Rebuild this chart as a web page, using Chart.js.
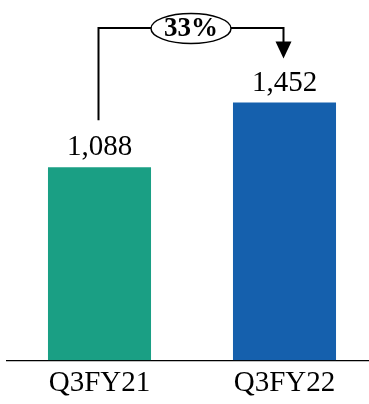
<!DOCTYPE html>
<html>
<head>
<meta charset="utf-8">
<script src="https://cdn.jsdelivr.net/npm/chart.js@4"></script>
<style>
  body { margin: 0; overflow: hidden; background: #fff; }
  #wrap { width: 377px; height: 410px; }
</style>
</head>
<body>
<div id="wrap"><canvas id="barChart" width="377" height="410"></canvas></div>
<script>
let categories = ["Q3FY21", "Q3FY22"];
let values = [1088, 1452];
let valueLabels = ["1,088", "1,452"];
let barColors = ["#1A9F84", "#1560AD"];
let growthLabel = "33%";

const serif = "'Liberation Serif', 'Times New Roman', serif";

// value labels above bars + growth arrow
const annotate = {
    id: "annotate",
    afterDatasetsDraw(chart) {
        let ctx = chart.ctx;
        let bars = chart.getDatasetMeta(0).data;
        ctx.save();
        ctx.fillStyle = "#000";
        ctx.font = "29px " + serif;
        ctx.textAlign = "center";
        ctx.textBaseline = "alphabetic";
        bars.forEach((b, i) => {
            ctx.fillText(valueLabels[i], b.x, b.y - 12);
        });

        let x1 = bars[0].x - 1;
        let x2 = bars[1].x - 1;
        let top = chart.chartArea.top + 28;
        let tipY = bars[1].y - 44;
        ctx.strokeStyle = "#000";
        ctx.lineWidth = 2;
        ctx.beginPath();
        ctx.moveTo(x1, bars[0].y - 47);
        ctx.lineTo(x1, top);
        ctx.lineTo(x2, top);
        ctx.lineTo(x2, tipY - 14);
        ctx.stroke();
        ctx.beginPath();
        ctx.moveTo(x2 - 8, tipY - 17);
        ctx.lineTo(x2 + 8, tipY - 17);
        ctx.lineTo(x2, tipY);
        ctx.closePath();
        ctx.fill();

        let cx = (x1 + x2) / 2;
        ctx.beginPath();
        ctx.ellipse(cx, top + 0.5, 40, 15, 0, 0, Math.PI * 2);
        ctx.fillStyle = "#fff";
        ctx.fill();
        ctx.lineWidth = 1.5;
        ctx.stroke();
        ctx.fillStyle = "#000";
        ctx.font = "bold 27px " + serif;
        ctx.textBaseline = "middle";
        ctx.fillText(growthLabel, cx, top + 1.5);
        ctx.restore();
    }
};

new Chart(document.getElementById("barChart"), {
    type: "bar",
    data: {
        labels: categories,
        datasets: [{
            data: values,
            backgroundColor: barColors,
            barPercentage: 0.557,
            categoryPercentage: 1
        }]
    },
    options: {
        responsive: false,
        animation: false,
        layout: { padding: { top: 0, left: 7, right: 0, bottom: 3 } },
        plugins: { legend: { display: false }, tooltip: { enabled: false } },
        scales: {
            x: {
                grid: { drawOnChartArea: false, drawTicks: false },
                border: { display: true, color: "#000", width: 1.2 },
                ticks: { color: "#000", padding: 6, font: { family: serif, size: 29 } }
            },
            y: { display: false, min: 0, max: 2030 }
        }
    },
    plugins: [annotate]
});
</script>
</body>
</html>
